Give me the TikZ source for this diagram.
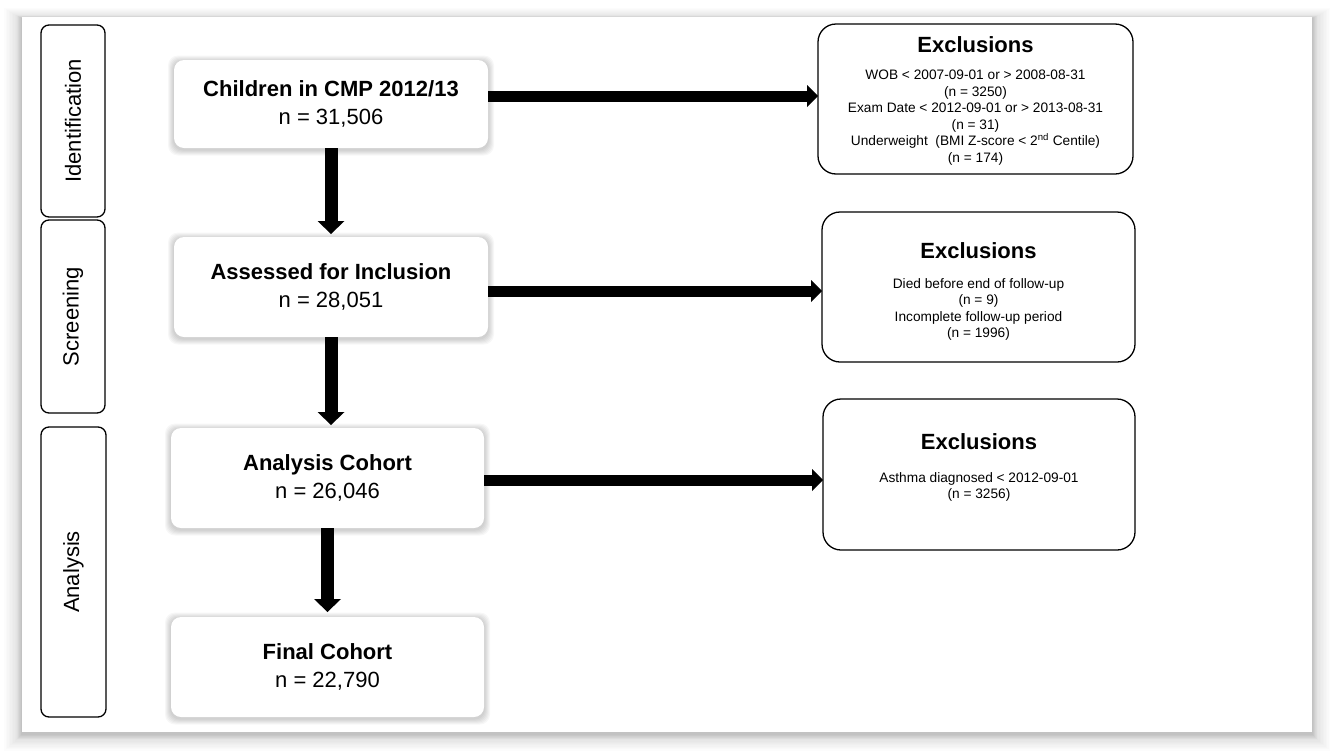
\documentclass[tikz,border=0pt]{standalone}
\usepackage{fontspec}
\setmainfont{Liberation Sans}
\usetikzlibrary{arrows.meta,calc}
\pgfdeclarelayer{bg}
\pgfsetlayers{bg,main}
\newcommand\softshadow[3]{% node, radius, layers
  \foreach \s in {1,...,#3}{%
    \fill[black,opacity=0.03,rounded corners=#2]
      ([shift={(-\s*1pt,-\s*1pt-1.5pt)}]#1.south west) rectangle
      ([shift={(\s*1pt,\s*1pt-1.5pt)}]#1.north east);}}
\tikzset{
  panel/.style={inner sep=0pt, outer sep=0pt},
  mainbox/.style={fill=white, rounded corners=10pt, inner sep=0pt, outer sep=0pt,
    align=center, font=\fontsize{22}{28}\selectfont},
  exclbox/.style={draw=black, line width=1.3pt, fill=white, rounded corners=18pt,
    inner sep=0pt, outer sep=0pt},
  phasebox/.style={draw=black, line width=1.3pt, fill=white, rounded corners=8pt,
    inner sep=0pt, outer sep=0pt, rotate=90, font=\fontsize{22}{26}\selectfont},
  exhead/.style={font=\fontsize{22}{26}\selectfont\bfseries, anchor=base, inner sep=0pt},
  exbody/.style={font=\fontsize{13.7}{16.5}\selectfont, align=center, inner sep=0pt},
  vflow/.style={line width=13pt, -{Triangle[width=27pt,length=13pt,line width=0pt]}},
  hflow/.style={line width=11pt, -{Triangle[width=22pt,length=11pt,line width=0pt]}},
}
\begin{document}
\begin{tikzpicture}[x=1pt,y=-1pt]
\useasboundingbox (0,0) rectangle (1333,750);
% panel (frame only; filled on the background layer)
\node[panel, minimum width=1290pt, minimum height=715pt] (panel) at (667,374.5) {};
% phase boxes
\node[phasebox, minimum width=192pt, minimum height=64pt] (ident) at (73,121) {Identification};
\node[phasebox, minimum width=193pt, minimum height=64pt] (screen) at (73,316.5) {Screening};
\node[phasebox, minimum width=290pt, minimum height=65pt] (anal) at (73.5,572) {Analysis};
% main boxes
\node[mainbox, minimum width=314pt, minimum height=88pt] (children) at (331,104)
  {\textbf{Children in CMP 2012/13}\\n = 31,506};
\node[mainbox, minimum width=314pt, minimum height=100pt] (assessed) at (331,287)
  {\textbf{Assessed for Inclusion}\\n = 28,051};
\node[mainbox, minimum width=313pt, minimum height=100pt] (cohort) at (327.5,478)
  {\textbf{Analysis Cohort}\\n = 26,046};
\node[mainbox, minimum width=313pt, minimum height=100pt] (final) at (327.5,667)
  {\textbf{Final Cohort}\\n = 22,790};
% exclusion boxes
\node[exclbox, minimum width=315pt, minimum height=150pt] (excl1) at (975.5,99) {};
\node[exclbox, minimum width=313pt, minimum height=150pt] (excl2) at (978.5,287) {};
\node[exclbox, minimum width=312pt, minimum height=151pt] (excl3) at (979,474.5) {};
\node[exhead] (h1) at (975.5,52) {Exclusions};
\node[exhead] (h2) at (978.5,258) {Exclusions};
\node[exhead] (h3) at (979,449) {Exclusions};
\node[exbody] (b1) at (975.5,117.5) {WOB < 2007-09-01 or > 2008-08-31\\(n = 3250)\\Exam Date < 2012-09-01 or > 2013-08-31\\(n = 31)\\Underweight \ (BMI Z-score < 2\textsuperscript{nd} Centile)\\(n = 174)};
\node[exbody] (b2) at (978.5,309.5) {Died before end of follow-up\\(n = 9)\\Incomplete follow-up period\\(n = 1996)};
\node[exbody] (b3) at (979,487) {Asthma diagnosed < 2012-09-01\\(n = 3256)};
% arrows
\draw[vflow] (children.south) -- ([yshift=3pt]children.south |- assessed.north);
\draw[vflow] (assessed.south) -- ([yshift=3pt]assessed.south |- cohort.north);
\draw[vflow] (cohort.south) -- ([yshift=5pt]cohort.south |- final.north);
\draw[hflow] ([yshift=8pt]children.east) -- ([yshift=8pt]children.east -| excl1.west);
\draw[hflow] ([yshift=-4pt]assessed.east) -- ([yshift=-4pt]assessed.east -| excl2.west);
\draw[hflow] ([yshift=-2pt]cohort.east) -- ([yshift=-2pt]cohort.east -| excl3.west);
% shadows
\begin{pgfonlayer}{bg}
  \foreach \s in {1,...,12}{%
    \fill[black,opacity=0.012]
      ([shift={(-\s*1.5pt,-\s*1.3pt-3pt)}]panel.south west) rectangle
      ([shift={(\s*1.5pt,\s*0.9pt-2pt)}]panel.north east);}
  \foreach \s in {1,...,5}{%
    \fill[black,opacity=0.025]
      ([shift={(-\s*1pt,-\s*1pt-2pt)}]panel.south west) rectangle
      ([shift={(\s*1pt,\s*0.5pt-1pt)}]panel.north east);}
  \fill[white] (panel.south west) rectangle (panel.north east);
  \softshadow{children}{10pt}{6}
  \softshadow{assessed}{10pt}{6}
  \softshadow{cohort}{10pt}{6}
  \softshadow{final}{10pt}{6}
\end{pgfonlayer}
\end{tikzpicture}
\end{document}
